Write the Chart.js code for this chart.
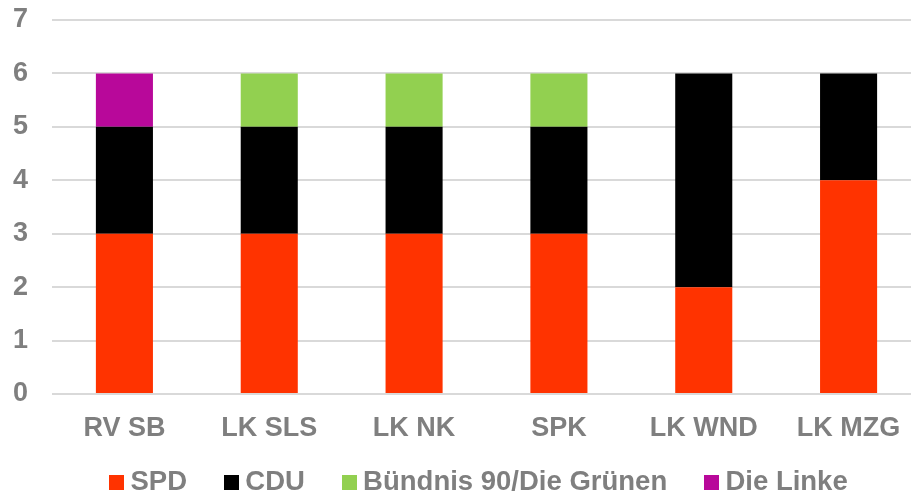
<!DOCTYPE html>
<html>
<head>
<meta charset="utf-8">
<script src="https://cdn.jsdelivr.net/npm/chart.js@4"></script>
<style>
  html, body { margin: 0; padding: 0; background: #ffffff; overflow: hidden; }
  #wrap { position: relative; width: 921px; height: 495px; }
</style>
</head>
<body>
<div id="wrap"><canvas id="c"></canvas></div>
<script>
const categories = ["RV SB", "LK SLS", "LK NK", "SPK", "LK WND", "LK MZG"];
const seriesNames = ["SPD", "CDU", "Bündnis 90/Die Grünen", "Die Linke"];
const spd   = [3, 3, 3, 3, 2, 4];
const cdu   = [2, 2, 2, 2, 4, 2];
const gruene = [0, 1, 1, 1, 0, 0];
const linke = [1, 0, 0, 0, 0, 0];
const yTicks = [0, 1, 2, 3, 4, 5, 6, 7];

const colors = ["#ff3300", "#000000", "#92d050", "#b8089a"];
const values = [spd, cdu, gruene, linke];
const labelColor = "#7f7f7f";
const font = { family: "'Liberation Sans', Arial, sans-serif", size: 27, weight: "bold" };
const legendFont = { family: "'Liberation Sans', Arial, sans-serif", size: 27.5, weight: "bold" };
const legendGap = 44;

function swatch(color) {
  const cv = document.createElement("canvas");
  cv.width = 15; cv.height = 15;
  const g = cv.getContext("2d");
  g.fillStyle = color;
  g.fillRect(0, 0, 15, 15);
  return cv;
}
const swatches = colors.map(swatch);

const legendPos = {
  id: "legendPos",
  afterLayout(chart) {
    const l = chart.legend;
    const h = legendFont.size + legendGap + 10;
    const w = l.right - l.left;
    l.height = h;
    l.top = 425; l.bottom = l.top + h;
    l.left = 72.25; l.right = l.left + w;
  }
};

new Chart(document.getElementById("c"), {
  type: "bar",
  data: {
    labels: categories,
    datasets: seriesNames.map((n, i) => ({
      label: n,
      data: values[i],
      backgroundColor: colors[i],
      borderWidth: 0,
      barPercentage: 0.394,
      categoryPercentage: 1.0
    }))
  },
  options: {
    responsive: true,
    maintainAspectRatio: false,
    animation: false,
    layout: { padding: { top: 20, left: 0, right: 0, bottom: 0 } },
    plugins: {
      tooltip: { enabled: false },
      legend: {
        position: "bottom",
        align: "start",
        maxHeight: 45,
        labels: {
          usePointStyle: true,
          pointStyleWidth: 0.5,
          padding: legendGap,
          color: labelColor,
          font: legendFont,
          generateLabels(chart) {
            return chart.data.datasets.map((ds, i) => ({
              text: ds.label,
              fillStyle: colors[i],
              strokeStyle: colors[i],
              lineWidth: 0,
              pointStyle: swatches[i],
              hidden: false,
              datasetIndex: i,
              fontColor: labelColor
            }));
          }
        }
      }
    },
    scales: {
      x: {
        stacked: true,
        grid: { display: false, drawTicks: false },
        border: { display: false },
        ticks: { color: labelColor, font: font, padding: 18, maxRotation: 0, autoSkip: false },
        afterFit(scale) { scale.height = 56; }
      },
      y: {
        stacked: true,
        min: 0,
        max: 7,
        afterBuildTicks(scale) { scale.ticks = yTicks.map(v => ({ value: v })); },
        grid: { color: "#d9d9d9", lineWidth: 2, drawTicks: true, tickLength: 24, tickColor: "rgba(0,0,0,0)" },
        border: { display: false },
        ticks: { color: labelColor, font: font, padding: 0 },
        afterFit(scale) { scale.width = 52; }
      }
    }
  },
  plugins: [legendPos]
});
</script>
</body>
</html>
